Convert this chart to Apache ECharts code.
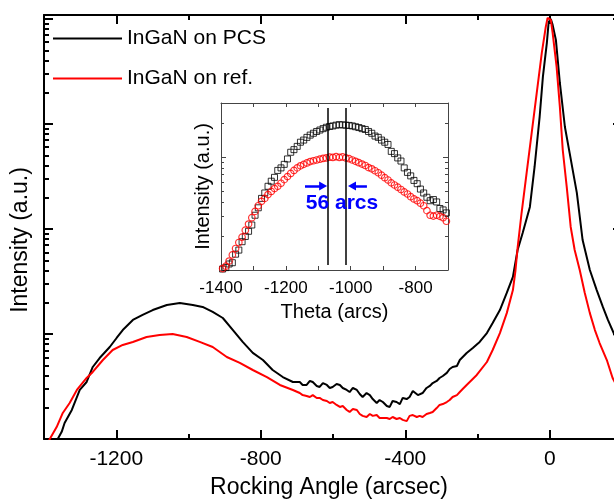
<!DOCTYPE html>
<html>
<head>
<meta charset="utf-8">
<script src="https://cdn.jsdelivr.net/npm/echarts@6/dist/echarts.min.js"></script>
<style>
  html, body { margin: 0; padding: 0; background: #fff; }
  #chart { width: 614px; height: 501px; }
</style>
</head>
<body>
<div id="chart"></div>
<script>
// ---- main plot: rocking curves (arcsec, a.u.) ----
const pcsAngle = [-1376,-1362,-1351,-1343,-1323,-1301,-1282,-1265,-1246,-1218,-1199,-1182,-1154,-1127,-1099,-1060,-1024,-988,-961,-933,-905,-877,-850,-822,-794,-767,-739,-711,
  -692,-684,-673,-664,-656,-645,-637,-628,-617,-609,-601,-590,-581,-573,-562,-554,-545,-534,-526,-518,-507,-498,-490,-479,-471,-462,-451,-443,-435,-424,-415,-407,-396,-388,-379,-374,-365,-352,-341,-332,-324,-313,-305,-296,-285,-277,-269,-257,-249,
  -230,-213,-194,-174,-158,-138,-119,-102,-89,-75,-55,-42,-28,-19,-8,-3,3,8,17,28,42,55,75,91,111,130,147,161,177,199];
const pcsIntensity = [8.8,10,11.7,14.2,18.9,29.3,34.9,48.5,59,75.2,91.6,109,136,152,169,189,197,189,181,162,142,109,84,66,56.5,45.4,38.9,34.9,
  34.9,32.7,32.7,35.7,34.9,32,31.3,34.1,32.7,30.6,31.3,33.4,32.7,30.6,29.3,28,30.6,29.3,26.8,25.1,27.4,26.2,24,22,23.5,22.5,20.6,20.2,23,22.5,21.5,24.6,24,25.1,28.6,28,26.2,27.4,30.6,32,34.1,35.7,38.1,39.8,42.6,46.4,48.5,49.6,56.5,
  65.9,73.6,84,102,127,169,246,349,631,916,1622,3892,11660,28050,59050,93570,100000,87740,63100,24550,9354,5297,2203,785,407,262,181,136,102,70];

const refAngle = [-1392,-1384,-1365,-1348,-1329,-1309,-1282,-1265,-1237,-1210,-1182,-1154,-1116,-1080,-1044,-1005,-969,-933,-894,-858,-822,-783,-747,-711,
  -692,-684,-673,-664,-656,-645,-637,-628,-617,-609,-601,-590,-581,-573,-562,-554,-545,-534,-526,-518,-507,-498,-490,-479,-471,-462,-451,-443,-435,-424,-415,-407,-396,-388,-379,-368,-360,-352,-341,-332,-324,-313,-305,-296,-285,-277,-269,-257,-249,-241,-230,
  -202,-174,-158,-138,-119,-102,-95,-89,-78,-64,-50,-36,-22,-11,-6,3,8,19,28,36,47,58,69,83,97,111,125,138,158,174,199];
const refIntensity = [8.8,10,13,17.7,22,29.3,38.1,43.5,56.5,70.4,78.6,84,93.6,97.8,100,93.6,84,75.2,60.4,53,45.4,38.9,32.7,29.3,
  27.4,26.2,25.7,25.1,26.2,24.6,24.6,23.5,23,22,22.5,21.1,20.2,20.6,18.9,18.1,19.3,18.9,17.3,16.6,16.2,17.3,16.6,16.9,15.85,15.85,15.85,15.5,16.2,15.5,15.85,15.2,14.8,16.6,16.9,16.2,16.6,16.2,17.3,17.7,18.1,19.7,21.1,21.5,22.5,23.5,25.1,26.2,28,29.9,32.7,
  40.7,54.1,70.4,102,158,262,400,659,1419,3412,8204,19730,47430,83950,102200,97830,73620,34910,14530,5650,2512,1045,631,407,246,158,109,82,56.5,38.1,26.2];

// ---- inset: zoom of the low-angle peak ----
const insetAngle = [-1395,-1385,-1375,-1365,-1355,-1345,-1335,-1325,-1315,-1305,-1295,-1285,-1275,-1265,-1255,-1245,-1235,-1225,-1215,-1205,-1195,-1185,-1175,-1165,-1155,-1145,-1135,-1125,-1115,-1105,-1095,-1085,-1075,-1065,-1055,-1045,-1035,-1025,-1015,-1005,-995,-985,-975,-965,-955,-945,-935,-925,-915,-905,-895,-885,-875,-865,-855,-845,-835,-825,-815,-805,-795,-785,-775,-765,-755,-745,-735,-725,-715,-705];
const insetPcs = [10.2,10.5,11.3,11.6,13.8,15,17.8,19.8,22,25,30.5,35.5,43,48,55,61,66,76,80,86,96,110,116,124,135,141,149,156,162,168,173,178,183,186,188,191,193,192,191,190,188,185,182,178,175,168,162,153,149,141,135,129,112,107,98,92,80,73,68,62,58,52,48,44,41,42,40,35,34,32];
const insetRef = [10.3,10.8,12,13.6,15.5,17.5,19.5,22.5,25.5,29,33,37,40.5,43,46.5,49.5,52.5,55,58.5,63,67,71.5,76,80,83.5,86,88.5,91,92.5,94,95.5,97,98,99.5,99,100.5,99,100,98,96.5,94,91.5,89,86.5,84,80.5,78.5,75.5,72.5,69,65.5,62.5,59,56.5,54,51.5,49,47,44.5,42.5,41,39,37,33.5,30.5,30,30.5,29.8,29,27];

// peak positions marked in the inset and the 56 arcs arrows
const peakLines = [-1072, -1016];
const peakLineSpan = [11.1, 271];
const arrowLevel = 55.4;
const arrowRight = [-1141, -1085];
const arrowLeft = [-950, -996];
const gapLabel = { text: '56 arcs', angle: -1027, level: 39.2 };

// ticks
const mainMajorX = [-1200, -800, -400, 0];
const mainMinorX = [-1000, -600, -200];
const mainDecades = [10, 100, 1000, 10000, 100000];
const insetLabelX = [-1400, -1200, -1000, -800];
const insetTickX = [-1300, -1200, -1100, -1000, -900, -800];
const insetMajorY = [100];

function minorLog(decades, upTo) {
  const out = [];
  decades.forEach(d => {
    for (let m = 2; m <= 9; m++) if (d * m <= upTo) out.push(d * m);
  });
  return out;
}
const mainMinorY = minorLog([10, 100, 1000, 10000], 109000);
const insetMinorY = minorLog([10, 100], 300);

const FONT = 'Liberation Sans, Arial, Helvetica, sans-serif';
const black2 = { color: '#000', width: 2 };
const grey1 = { color: '#444', width: 1 };
const plain = v => String(v);

function tickAxis(type, gridIndex, position, min, max, ticks, len, style, showLine, more) {
  return Object.assign({
    type: type,
    gridIndex: gridIndex,
    position: position,
    min: min,
    max: max,
    axisLine: { show: showLine, onZero: false, lineStyle: style },
    axisTick: { show: true, inside: true, length: len, customValues: ticks, lineStyle: style },
    axisLabel: { show: false },
    splitLine: { show: false }
  }, more || {});
}

const xAxes = [
  tickAxis('value', 0, 'bottom', -1400, 200, mainMajorX, 9, black2, true, {
    axisLabel: { show: true, customValues: mainMajorX, formatter: plain, fontSize: 21, color: '#000', margin: 10 },
    name: 'Rocking Angle (arcsec)',
    nameLocation: 'middle',
    nameGap: 37,
    nameTextStyle: { fontSize: 23, color: '#000', padding: [0, 8, 0, 0] }
  }),
  tickAxis('value', 0, 'bottom', -1400, 200, mainMinorX, 5, black2, false),
  tickAxis('value', 0, 'top', -1400, 200, mainMajorX, 9, black2, true),
  tickAxis('value', 0, 'top', -1400, 200, mainMinorX, 5, black2, false),
  tickAxis('value', 1, 'bottom', -1400, -700, insetTickX, 4, grey1, true, {
    axisLabel: { show: true, customValues: insetLabelX, formatter: plain, fontSize: 17, color: '#000', margin: 10 },
    name: 'Theta (arcs)',
    nameLocation: 'middle',
    nameGap: 32,
    nameTextStyle: { fontSize: 20, color: '#000' }
  }),
  tickAxis('value', 1, 'top', -1400, -700, insetTickX, 4, grey1, true)
];

const yAxes = [
  tickAxis('log', 0, 'left', 10, 109000, mainDecades, 9, black2, true, {
    name: 'Intensity (a.u.)',
    nameLocation: 'middle',
    nameGap: 12,
    nameTextStyle: { fontSize: 23, color: '#000', padding: [0, 26, 0, 0] }
  }),
  tickAxis('log', 0, 'left', 10, 109000, mainMinorY, 5, black2, false),
  tickAxis('log', 0, 'right', 10, 109000, mainDecades, 9, black2, true),
  tickAxis('log', 0, 'right', 10, 109000, mainMinorY, 5, black2, false),
  tickAxis('log', 1, 'left', 10, 300, insetMajorY, 5, grey1, true, {
    name: 'Intensity (a.u.)',
    nameLocation: 'middle',
    nameGap: 8,
    nameTextStyle: { fontSize: 20, color: '#000' }
  }),
  tickAxis('log', 1, 'left', 10, 300, insetMinorY, 3, grey1, false),
  tickAxis('log', 1, 'right', 10, 300, insetMajorY, 5, grey1, true),
  tickAxis('log', 1, 'right', 10, 300, insetMinorY, 3, grey1, false)
];

const zip = (xs, ys) => xs.map((x, i) => [x, ys[i]]);
const blue = '#0000ff';

const chart = echarts.init(document.getElementById('chart'), null, { renderer: 'canvas' });
chart.setOption({
  animation: false,
  backgroundColor: '#fff',
  textStyle: { fontFamily: FONT },
  grid: [
    { left: 44, top: 15, width: 578, height: 424, outerBoundsMode: 'none', containLabel: false },
    { left: 221, top: 103, width: 227, height: 167, outerBoundsMode: 'none', containLabel: false }
  ],
  legend: {
    data: ['InGaN on PCS', 'InGaN on ref.'],
    orient: 'vertical',
    left: 48,
    top: 23,
    icon: 'rect',
    itemWidth: 69,
    itemHeight: 2,
    itemGap: 19,
    textStyle: { fontSize: 21, color: '#000' }
  },
  xAxis: xAxes,
  yAxis: yAxes,
  series: [
    {
      name: 'InGaN on PCS',
      type: 'line',
      xAxisIndex: 0,
      yAxisIndex: 0,
      data: zip(pcsAngle, pcsIntensity),
      symbol: 'none',
      lineStyle: { color: '#000', width: 2 },
      itemStyle: { color: '#000' }
    },
    {
      name: 'InGaN on ref.',
      type: 'line',
      xAxisIndex: 0,
      yAxisIndex: 0,
      data: zip(refAngle, refIntensity),
      symbol: 'none',
      lineStyle: { color: '#ff0000', width: 2 },
      itemStyle: { color: '#ff0000' }
    },
    {
      name: 'inset PCS',
      type: 'scatter',
      xAxisIndex: 4,
      yAxisIndex: 4,
      data: zip(insetAngle, insetPcs),
      symbol: 'rect',
      symbolSize: 6,
      itemStyle: { color: 'rgba(0,0,0,0)', borderColor: '#000', borderWidth: 1 }
    },
    {
      name: 'inset ref',
      type: 'scatter',
      xAxisIndex: 4,
      yAxisIndex: 4,
      data: zip(insetAngle, insetRef),
      symbol: 'circle',
      symbolSize: 6.5,
      itemStyle: { color: 'rgba(0,0,0,0)', borderColor: '#ff0000', borderWidth: 1.2 },
      markLine: {
        silent: true,
        animation: false,
        symbol: ['none', 'none'],
        label: { show: false },
        lineStyle: { color: '#000', width: 1.5, type: 'solid' },
        data: [
          [{ coord: [peakLines[0], peakLineSpan[0]] }, { coord: [peakLines[0], peakLineSpan[1]] }],
          [{ coord: [peakLines[1], peakLineSpan[0]] }, { coord: [peakLines[1], peakLineSpan[1]] }],
          [
            { coord: [arrowRight[0], arrowLevel], lineStyle: { color: blue, width: 2.5, type: 'solid' } },
            { coord: [arrowRight[1], arrowLevel], symbol: 'triangle', symbolSize: [9, 8] }
          ],
          [
            { coord: [arrowLeft[0], arrowLevel], lineStyle: { color: blue, width: 2.5, type: 'solid' } },
            { coord: [arrowLeft[1], arrowLevel], symbol: 'triangle', symbolSize: [9, 8] }
          ]
        ]
      },
      markPoint: {
        silent: true,
        animation: false,
        data: [{
          coord: [gapLabel.angle, gapLabel.level],
          symbol: 'circle',
          symbolSize: 0,
          label: {
            show: true,
            position: 'inside',
            formatter: gapLabel.text,
            color: blue,
            fontSize: 21,
            fontWeight: 'bold'
          }
        }]
      }
    }
  ]
});
</script>
</body>
</html>
